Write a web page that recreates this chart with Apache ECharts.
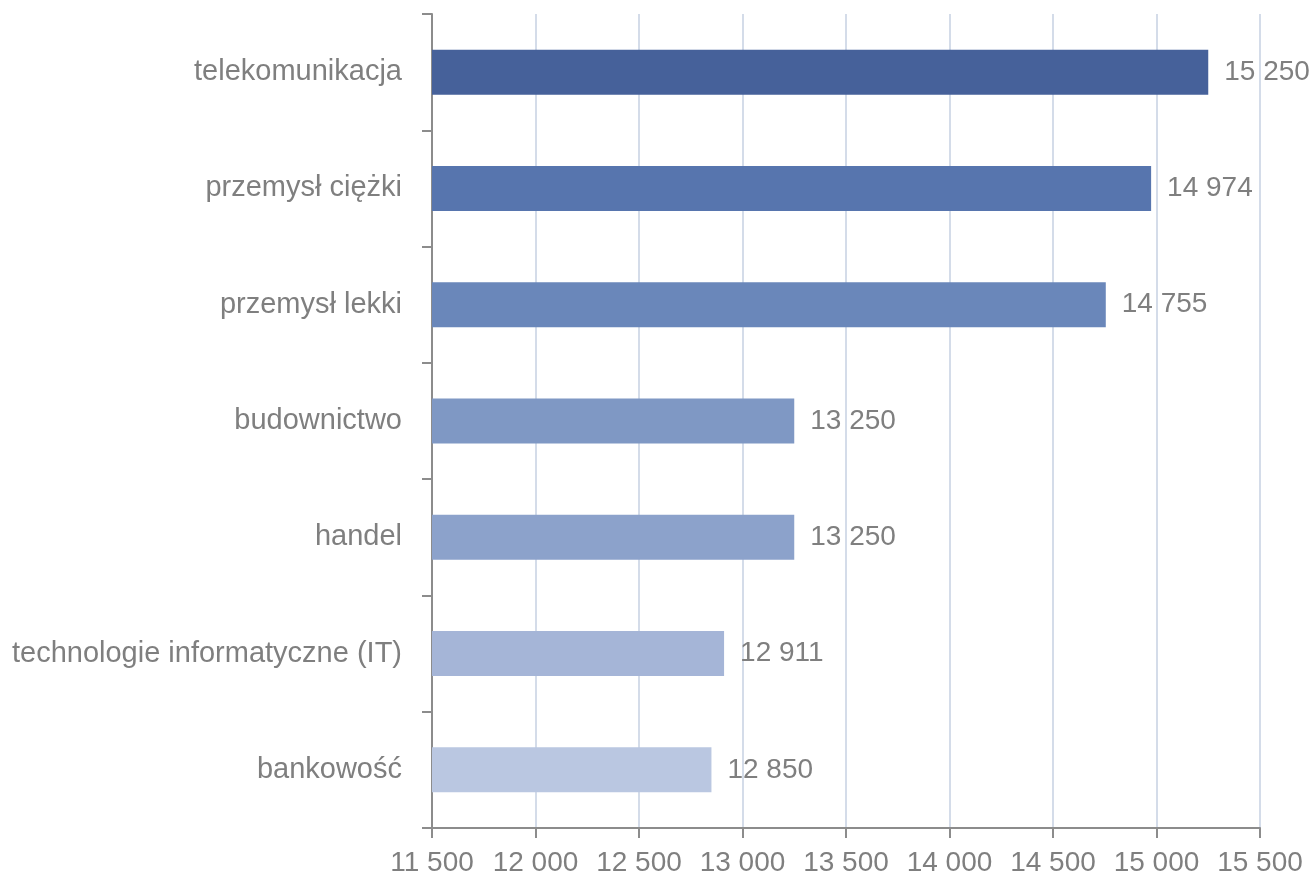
<!DOCTYPE html>
<html>
<head>
<meta charset="utf-8">
<script src="https://cdn.jsdelivr.net/npm/echarts@6/dist/echarts.min.js"></script>
<style>
html, body { margin: 0; padding: 0; background: #fff; }
#chart { width: 1316px; height: 883px; }
</style>
</head>
<body>
<div id="chart"></div>
<script>
// Dane
const categories = ['telekomunikacja', 'przemysł ciężki', 'przemysł lekki', 'budownictwo', 'handel', 'technologie informatyczne (IT)', 'bankowość']
const values = [15250, 14974, 14755, 13250, 13250, 12911, 12850]
const barColors = ['#46619A', '#5775AE', '#6A87BA', '#7F98C4', '#8CA2CB', '#A5B5D7', '#BAC7E1']
const xMin = 11500
const xMax = 15500
const xStep = 500

const fmt = v => String(v).replace(/\B(?=(\d{3})+(?!\d))/g, ' ')

const fontFamily = '"Liberation Sans", Arial, sans-serif'
const textColor = '#7F7F7F'
const axisColor = '#8C8C8C'
const gridColor = '#D4DCE9'

const chart = echarts.init(document.getElementById('chart'))

const option = {
    animation: false,
    grid: {
        left: 432,
        right: 56,
        top: 14,
        bottom: 55,
        containLabel: false
    },
    xAxis: {
        type: 'value',
        min: xMin,
        max: xMax,
        interval: xStep,
        axisLine: { show: true, lineStyle: { color: axisColor, width: 2 } },
        axisTick: { show: true, length: 10, lineStyle: { color: axisColor, width: 2 } },
        splitLine: { show: true, lineStyle: { color: gridColor, width: 2 } },
        axisLabel: {
            color: textColor,
            fontFamily: fontFamily,
            fontSize: 28,
            margin: 21,
            formatter: v => fmt(v)
        }
    },
    yAxis: {
        type: 'category',
        data: categories,
        inverse: true,
        axisLine: { show: true, lineStyle: { color: axisColor, width: 2 } },
        axisTick: { show: true, length: 10, lineStyle: { color: axisColor, width: 2 } },
        axisLabel: {
            color: textColor,
            fontFamily: fontFamily,
            fontSize: 29,
            margin: 30
        }
    },
    series: [
        {
            type: 'bar',
            barWidth: 45,
            data: values.map((v, i) => ({ value: v, itemStyle: { color: barColors[i] } })),
            label: {
                show: true,
                position: 'right',
                distance: 16,
                color: textColor,
                fontFamily: fontFamily,
                fontSize: 28,
                formatter: p => fmt(p.value)
            }
        }
    ]
}

chart.setOption(option)
</script>
</body>
</html>
